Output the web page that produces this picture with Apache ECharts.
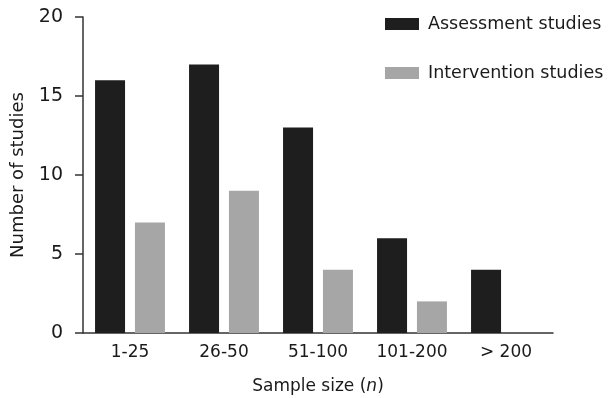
<!DOCTYPE html>
<html><head><meta charset="utf-8">
<script src="https://cdn.jsdelivr.net/npm/echarts@6/dist/echarts.min.js"></script>
<style>html,body{margin:0;padding:0;background:#fff}#c{width:608px;height:398px}</style>
</head><body><div id="c"></div>
<script>
const categories = ['1-25', '26-50', '51-100', '101-200', '> 200'];
const assessment = [16, 17, 13, 6, 4];
const intervention = [7, 9, 4, 2, 0];
const yTicks = [0, 5, 10, 15, 20];

const font = 'DejaVu Sans';
const chart = echarts.init(document.getElementById('c'));
chart.setOption({
  animation: false,
  textStyle: { fontFamily: font },
  grid: { left: 83, right: 55, top: 17, bottom: 65, containLabel: false, outerBoundsMode: 'none' },
  legend: {
    orient: 'vertical', left: 380, top: 10,
    itemWidth: 34, itemHeight: 12, itemGap: 31,
    icon: 'rect',
    textStyle: { fontFamily: font, fontSize: 17.5, color: '#1a1a1a', padding: [0, 0, 0, 4] },
    data: ['Assessment studies', 'Intervention studies']
  },
  xAxis: {
    type: 'category', data: categories,
    axisLine: { lineStyle: { color: '#333', width: 1.5 } },
    axisTick: { show: false },
    axisLabel: { fontFamily: font, fontSize: 17, color: '#1a1a1a', margin: 11 },
    name: '{a|Sample size (}{i|n}{a|)}', nameLocation: 'middle', nameGap: 45,
    nameTextStyle: {
      rich: {
        a: { fontFamily: font, fontSize: 17, color: '#1a1a1a' },
        i: { fontFamily: font, fontSize: 17, color: '#1a1a1a', fontStyle: 'italic' }
      }
    }
  },
  yAxis: {
    type: 'value', min: yTicks[0], max: yTicks[yTicks.length - 1], interval: 5,
    axisLine: { show: true, lineStyle: { color: '#333', width: 1.5 } },
    axisTick: { show: true, length: 8, lineStyle: { color: '#333', width: 1.5 } },
    splitLine: { show: false },
    axisLabel: { fontFamily: font, fontSize: 19, color: '#1a1a1a', margin: 20 },
    name: 'Number of studies', nameLocation: 'middle', nameGap: 56,
    nameTextStyle: { fontFamily: font, fontSize: 18, color: '#1a1a1a' }
  },
  series: [
    { name: 'Assessment studies', type: 'bar', data: assessment, barWidth: 30, barGap: '33%',
      itemStyle: { color: '#1e1e1e' } },
    { name: 'Intervention studies', type: 'bar', data: intervention, barWidth: 30,
      itemStyle: { color: '#a6a6a6' } }
  ]
});
</script></body></html>
